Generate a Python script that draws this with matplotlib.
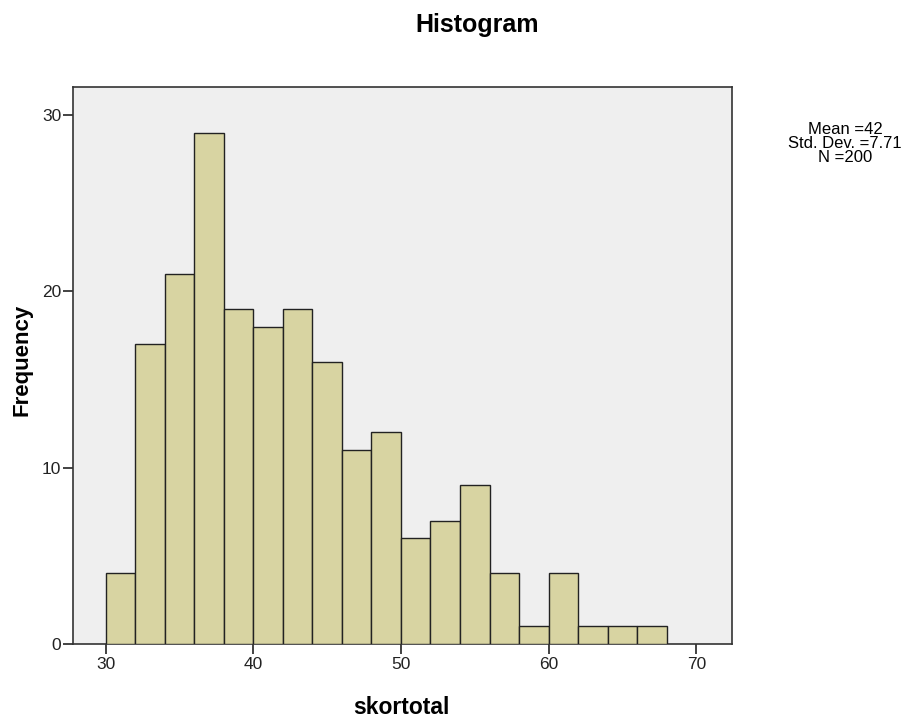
import matplotlib.pyplot as plt
import numpy as np

plt.rc('font', family=['Liberation Sans', 'DejaVu Sans'])

# histogram data (bin width 2, starting at 30)
bin_edges = np.arange(30, 70, 2)
counts = [4, 17, 21, 29, 19, 18, 19, 16, 11, 12, 6, 7, 9, 4, 1, 4, 1, 1, 1]
x_ticks = [30, 40, 50, 60, 70]
y_ticks = [0, 10, 20, 30]
stats = ["Mean =42", "Std. Dev. =7.71", "N =200"]

fig = plt.figure(figsize=(9.08, 7.2), dpi=100)
ax = fig.add_axes([0.0804, 0.1056, 0.7256, 0.7736])
ax.set_facecolor('#efefef')

ax.bar(bin_edges[:-1], counts, width=2, align='edge', color='#d8d4a2',
       edgecolor='#222222', linewidth=1.0, zorder=3)

ax.set_xlim(27.8, 72.4)
ax.set_ylim(0, 31.6)
ax.set_xticks(x_ticks)
ax.set_yticks(y_ticks)
ax.tick_params(direction='out', length=7.5, width=1.2, labelsize=12.5,
               colors='#222222')
ax.tick_params(axis='y', pad=1)
ax.tick_params(axis='x', pad=2)
for s in ax.spines.values():
    s.set_color('#333333')
    s.set_linewidth(1.2)

fig.text(477/908, 1 - 25/720, "Histogram", ha='center', va='center',
         fontsize=18, fontweight='bold')
fig.text(401/908, 1 - 707/720, "skortotal", ha='center', va='center',
         fontsize=16.5, fontweight='bold')
fig.text(22/908, 1 - 360/720, "Frequency", ha='center', va='center',
         fontsize=16, fontweight='bold', rotation=90)
# stats box, one line at a time (SPSS packs them tightly)
for i, line in enumerate(stats):
    fig.text(845/908, 1 - (130 + 13.5*i)/720, line, ha='center',
             va='center', fontsize=12)

plt.savefig("out.png", dpi=100)
